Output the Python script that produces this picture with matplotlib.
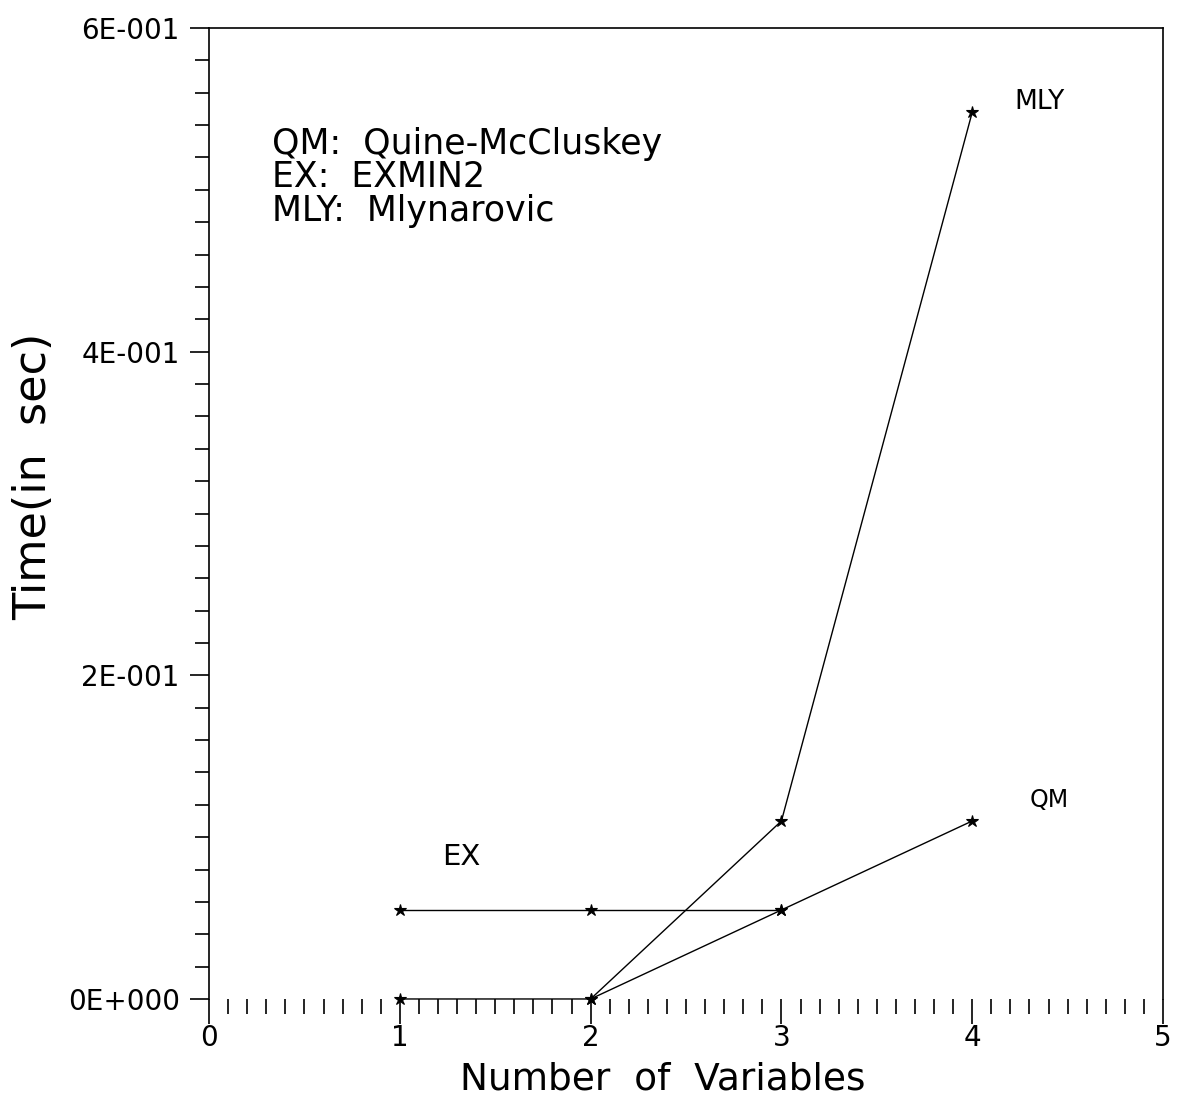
## timing comparison: QM vs EXMIN2 vs Mlynarovic
import numpy as np
import matplotlib.pyplot as plt
from matplotlib.ticker import MultipleLocator, FixedLocator

## ------------ data -----------------------------------------
num_vars_qm = [1, 2, 3, 4]
time_qm = [0.0, 0.0, 0.055, 0.11]

num_vars_ex = [1, 2, 3]
time_ex = [0.055, 0.055, 0.055]

num_vars_mly = [2, 3, 4]
time_mly = [0.0, 0.11, 0.548]

ytick_vals = [0.0, 0.2, 0.4, 0.6]
ytick_labels = ['0E+000', '2E-001', '4E-001', '6E-001']
xtick_vals = [0, 1, 2, 3, 4, 5]
## -----------------------------------------------------------

fig = plt.figure(figsize=(11.81, 11.08), dpi=100)
ax = fig.add_axes([0.177, 0.0984, 0.8078, 0.8763])

line_kw = dict(color='black', lw=1.0, marker='*', ms=9, mew=0.8, clip_on=False)
ax.plot(num_vars_ex, time_ex, **line_kw)
ax.plot(num_vars_qm, time_qm, **line_kw)
ax.plot(num_vars_mly, time_mly, **line_kw)

ax.set_xlim(0, 5)
ax.set_ylim(0, 0.6)

ax.xaxis.set_major_locator(FixedLocator(xtick_vals))
ax.xaxis.set_minor_locator(MultipleLocator(0.1))
ax.set_yticks(ytick_vals)
ax.set_yticklabels(ytick_labels)
ax.yaxis.set_minor_locator(MultipleLocator(0.02))

ax.spines['bottom'].set_visible(False)
for s in ['top', 'left', 'right']:
    ax.spines[s].set_linewidth(1.2)

ax.tick_params(axis='x', which='major', direction='out', length=18, width=1.2,
               labelsize=20, pad=0)
ax.tick_params(axis='x', which='minor', direction='out', length=11, width=1.2)
ax.tick_params(axis='y', which='major', direction='out', length=14, width=1.2,
               labelsize=20, pad=7)
ax.tick_params(axis='y', which='minor', direction='out', length=10, width=1.2)

# axis titles placed by hand: in the original they sit off-centre
ax.text(0.476, -0.083, 'Number  of  Variables', fontsize=27,
        ha='center', va='center', transform=ax.transAxes)
ax.text(-0.184, 0.538, 'Time(in  sec)', fontsize=32, rotation=90,
        ha='center', va='center', transform=ax.transAxes)

ax.text(4.22, 0.554, 'MLY', fontsize=19, va='center', ha='left')
ax.text(4.3, 0.123, 'QM', fontsize=17, va='center', ha='left')
ax.text(1.22, 0.088, 'EX', fontsize=21, va='center', ha='left')

ax.text(0.33, 0.539, 'QM:  Quine-McCluskey\nEX:  EXMIN2\nMLY:  Mlynarovic',
        fontsize=25, va='top', ha='left', linespacing=0.98)

fig.savefig('out.png', dpi=100)
print('figure saved to out.png')
